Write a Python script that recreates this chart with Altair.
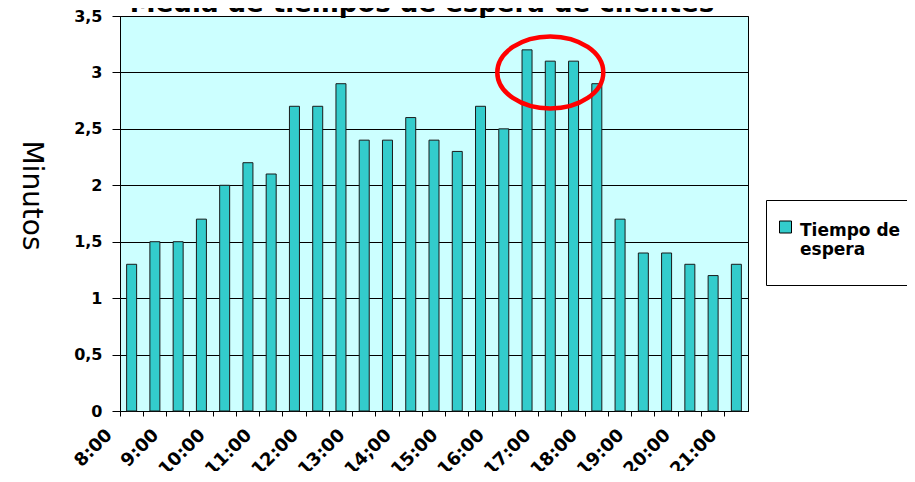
import altair as alt
import pandas as pd

# ---- data ----
titulo = ['Media de tiempos de espera de clientes']
horas = ['8:00', '8:30', '9:00', '9:30', '10:00', '10:30', '11:00', '11:30',
         '12:00', '12:30', '13:00', '13:30', '14;00', '14:30', '15:00', '15:30',
         '16:00', '16:30', '17:00', '17:30', '18:00', '18:30', '19:00', '19:30',
         '20:00', '20:30', '21:00']
minutos = [1.3, 1.5, 1.5, 1.7, 2.0, 2.2, 2.1, 2.7, 2.7, 2.9, 2.4, 2.4, 2.6, 2.4,
           2.3, 2.7, 2.5, 3.2, 3.1, 3.1, 2.9, 1.7, 1.4, 1.4, 1.3, 1.2, 1.3]
serie = 'Tiempo de espera'
y_ticks = [0, 0.5, 1, 1.5, 2, 2.5, 3, 3.5]

# highlighted region (red ellipse)
marca_hora = ['17:00']
marca_valor = [3.0]

df = pd.DataFrame({'hora': horas, 'minutos': minutos, 'serie': serie})
df_marca = pd.DataFrame({'hora': marca_hora, 'minutos': marca_valor})
df_titulo = pd.DataFrame({'titulo': titulo})

FONT = 'DejaVu Sans'
ELIPSE = ('M -1 0 C -1 -0.375 -0.552 -0.68 0 -0.68 C 0.552 -0.68 1 -0.375 1 0 '
          'C 1 0.375 0.552 0.68 0 0.68 C -0.552 0.68 -1 0.375 -1 0 Z')
CUADRO = 'M -1 0.75 L 1 0.75 L 1 2.75 L -1 2.75 Z'

x_scale = alt.Scale(domain=horas, paddingInner=0, paddingOuter=0)

x_enc = alt.X(
    'hora:N', title=None, scale=x_scale,
    axis=alt.Axis(
        bandPosition=0,
        labelAngle=315, labelAlign='right', labelBaseline='middle',
        labelOffset=-22, labelPadding=16, labelOverlap=False,
        labelExpr="indexof(datum.value, ':30') >= 0 ? '' : datum.value",
        labelFont=FONT, labelFontSize=18, labelFontWeight='bold', labelColor='black',
        tickSize=5, tickColor='black', domainColor='black',
        grid=False,
    ),
)
y_enc = alt.Y(
    'minutos:Q',
    scale=alt.Scale(domain=[0, 3.5], nice=False),
    axis=alt.Axis(
        values=y_ticks, format='.1~f', labelExpr="replace(datum.label, '.', ',')",
        labelFont=FONT, labelFontSize=16, labelFontWeight='bold', labelColor='black',
        labelPadding=10, tickSize=8, tickColor='black', domainColor='black',
        grid=True, gridColor='black', gridOpacity=1, gridWidth=1,
        title='Minutos', titleFont=FONT, titleFontSize=28, titleFontWeight='normal',
        titleColor='black', titleAngle=90, titleX=-90, titleY=179,
        titleAlign='center', titleBaseline='middle',
    ),
)

bars = alt.Chart(df).mark_bar(
    size=10, stroke='#1a1a1a', strokeWidth=1
).encode(
    x=x_enc,
    y=y_enc,
    color=alt.Color(
        'serie:N', title=None,
        scale=alt.Scale(range=['#33CCCC']),
        legend=alt.Legend(
            orient='none', legendX=646, legendY=184,
            labelExpr="['', 'Tiempo de', 'espera', '']",
            labelFont=FONT, labelFontSize=17, labelFontWeight='bold',
            labelColor='black', labelLimit=300, labelBaseline='alphabetic',
            labelOffset=6, padding=8, strokeColor='black', fillColor='white',
            symbolType=CUADRO, symbolSize=144, symbolStrokeColor='black',
            symbolStrokeWidth=1, symbolOffset=3,
        ),
    ),
)

ellipse = alt.Chart(df_marca).mark_point(
    shape=ELIPSE, size=11236, filled=False, stroke='#FF0000',
    strokeWidth=4.5, opacity=1
).encode(x=alt.X('hora:N', scale=x_scale), y='minutos:Q')

# chart title, partly cut off at the top edge as in the reference
title = alt.Chart(df_titulo).mark_text(
    font=FONT, fontSize=26, fontWeight='bold', color='black',
    align='center', baseline='alphabetic'
).encode(x=alt.value(302), y=alt.value(-4), text='titulo:N')

chart = alt.layer(bars, ellipse, title).properties(
    width=628, height=395,
    autosize=alt.AutoSizeParams(type='none'),
    padding={'left': 112, 'top': 8, 'right': 159, 'bottom': 60},
).configure_view(fill='#CCFFFF', stroke='black', strokeWidth=1)

chart.save('out.html', embed_options={'renderer': 'svg', 'actions': False})
